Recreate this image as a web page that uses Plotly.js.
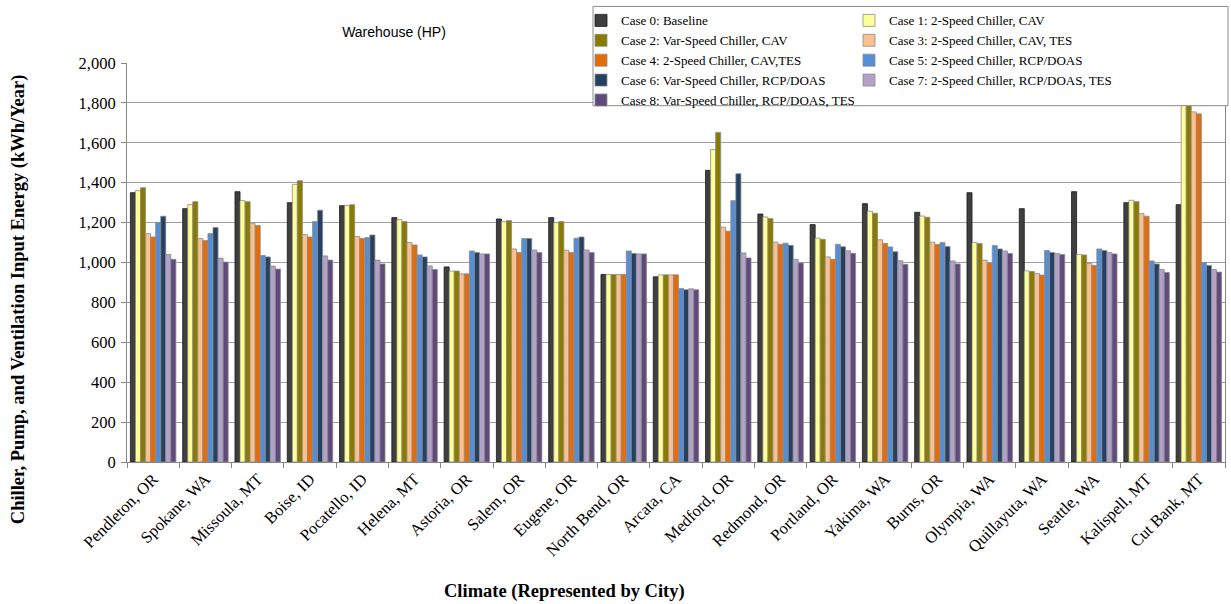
<!DOCTYPE html>
<html>
<head>
<meta charset="utf-8">
<script src="https://cdn.plot.ly/plotly-3.0.1.min.js"></script>
<style>html,body{margin:0;padding:0;background:#fff;}#chart{width:1231px;height:604px;}</style>
</head>
<body>
<div id="chart"></div>
<script>
const cities = ['Pendleton, OR','Spokane, WA','Missoula, MT','Boise, ID','Pocatello, ID','Helena, MT','Astoria, OR','Salem, OR','Eugene, OR','North Bend, OR','Arcata, CA','Medford, OR','Redmond, OR','Portland, OR','Yakima, WA','Burns, OR','Olympia, WA','Quillayuta, WA','Seattle, WA','Kalispell, MT','Cut Bank, MT'];

const caseNames = [
  'Case 0: Baseline',
  'Case 1: 2-Speed Chiller, CAV',
  'Case 2: Var-Speed Chiller, CAV',
  'Case 3: 2-Speed Chiller, CAV, TES',
  'Case 4: 2-Speed Chiller, CAV,TES',
  'Case 5: 2-Speed Chiller, RCP/DOAS',
  'Case 6: Var-Speed Chiller, RCP/DOAS',
  'Case 7: 2-Speed Chiller, RCP/DOAS, TES',
  'Case 8: Var-Speed Chiller, RCP/DOAS, TES'
];

const case0 = [1350,1270,1355,1300,1285,1225,978,1218,1225,940,928,1462,1243,1190,1295,1252,1350,1270,1355,1300,1290];
const case1 = [1360,1290,1310,1392,1285,1215,957,1205,1200,940,938,1566,1228,1122,1257,1233,1100,958,1040,1312,1840];
const case2 = [1375,1305,1305,1410,1290,1205,957,1210,1205,940,938,1652,1220,1116,1247,1227,1095,955,1038,1305,1860];
const case3 = [1145,1120,1195,1140,1130,1100,943,1068,1062,940,938,1177,1102,1028,1114,1102,1012,945,995,1245,1755];
const case4 = [1128,1110,1185,1128,1120,1088,943,1050,1050,940,938,1157,1091,1016,1096,1090,997,937,985,1232,1745];
const case5 = [1200,1145,1035,1205,1125,1038,1058,1120,1122,1058,870,1310,1097,1091,1078,1100,1085,1060,1068,1008,1000];
const case6 = [1232,1175,1028,1262,1138,1028,1050,1120,1128,1045,864,1445,1086,1079,1054,1080,1068,1050,1060,993,985];
const case7 = [1040,1022,982,1033,1012,983,1043,1063,1063,1043,868,1048,1016,1059,1009,1008,1058,1045,1050,965,965];
const case8 = [1016,1002,967,1012,993,965,1043,1050,1050,1043,863,1023,998,1046,991,993,1045,1040,1043,950,952];

const series = [case0,case1,case2,case3,case4,case5,case6,case7,case8];
const colors = ['#3f3f3f','#ffff99','#8a7a00','#fac090','#e46c0a','#558ed5','#254061','#b3a2c7','#604a7b'];

const serif = 'Liberation Serif, Times New Roman, serif';

const traces = series.map((vals, i) => ({
  type: 'bar',
  name: caseNames[i],
  x: cities,
  y: vals,
  legend: (i % 2 === 0) ? 'legend' : 'legend2',
  marker: {color: colors[i], line: {color: i === 0 ? '#1a1a1a' : '#8c8c8c', width: 0.8}},
  hoverinfo: 'x+y+name'
}));

const L = 127, R = 6, T = 60, B = 142, W = 1231, H = 604;
const pw = W - L - R, ph = H - T - B;
const px = v => (v - L) / pw;
const py = v => (H - B - v) / ph;

const layout = {
  width: W, height: H,
  margin: {l: L, r: R, t: T, b: B, pad: 0},
  paper_bgcolor: '#ffffff',
  plot_bgcolor: '#ffffff',
  barmode: 'group',
  bargap: 0.13,
  bargroupgap: 0,
  font: {family: serif, size: 16, color: '#000'},
  title: {
    text: 'Warehouse (HP)',
    font: {family: 'Liberation Sans, Arial, sans-serif', size: 14, color: '#000'},
    x: px(394), xanchor: 'center', xref: 'paper',
    y: 1 - 32 / H, yanchor: 'middle'
  },
  xaxis: {
    type: 'category',
    showline: true, linecolor: '#868686', linewidth: 1,
    ticks: 'outside', tickson: 'boundaries', ticklen: 5, tickcolor: '#868686',
    tickangle: -45,
    tickfont: {family: serif, size: 16.5, color: '#000'},
    showgrid: false, zeroline: false
  },
  yaxis: {
    range: [0, 2000], dtick: 200, tick0: 0,
    tickformat: ',d',
    showline: true, linecolor: '#868686', linewidth: 1, mirror: true,
    ticks: 'outside', ticklen: 5, tickcolor: '#868686',
    tickfont: {family: serif, size: 16.5, color: '#000'},
    ticklabelstandoff: 2,
    showgrid: true, gridcolor: '#a0a0a0', gridwidth: 1,
    zeroline: false
  },
  shapes: [{
    type: 'rect', xref: 'paper', yref: 'paper', layer: 'above',
    x0: px(593), x1: px(1228), y0: py(103), y1: py(3),
    fillcolor: '#ffffff', line: {color: '#8c8c8c', width: 1}
  }],
  legend: {
    x: px(581), xanchor: 'left', y: py(2), yanchor: 'top',
    orientation: 'v', bgcolor: 'rgba(0,0,0,0)', borderwidth: 0,
    font: {family: serif, size: 13, color: '#000'},
    traceorder: 'normal'
  },
  legend2: {
    x: px(849), xanchor: 'left', y: py(2), yanchor: 'top',
    orientation: 'v', bgcolor: 'rgba(0,0,0,0)', borderwidth: 0,
    font: {family: serif, size: 13, color: '#000'},
    traceorder: 'normal'
  },
  annotations: [
    {
      text: '<b>Chiller, Pump, and Ventilation Input Energy (kWh/Year)</b>',
      xref: 'paper', yref: 'paper', x: px(18), y: py(298),
      xanchor: 'center', yanchor: 'middle', textangle: -90, showarrow: false,
      font: {family: serif, size: 18.5, color: '#000'}
    },
    {
      text: '<b>Climate (Represented by City)</b>',
      xref: 'paper', yref: 'paper', x: px(564), y: py(592),
      xanchor: 'center', yanchor: 'middle', showarrow: false,
      font: {family: serif, size: 18.5, color: '#000'}
    }
  ],
  showlegend: true
};

Plotly.newPlot('chart', traces, layout, {displayModeBar: false, staticPlot: true});
</script>
</body>
</html>
